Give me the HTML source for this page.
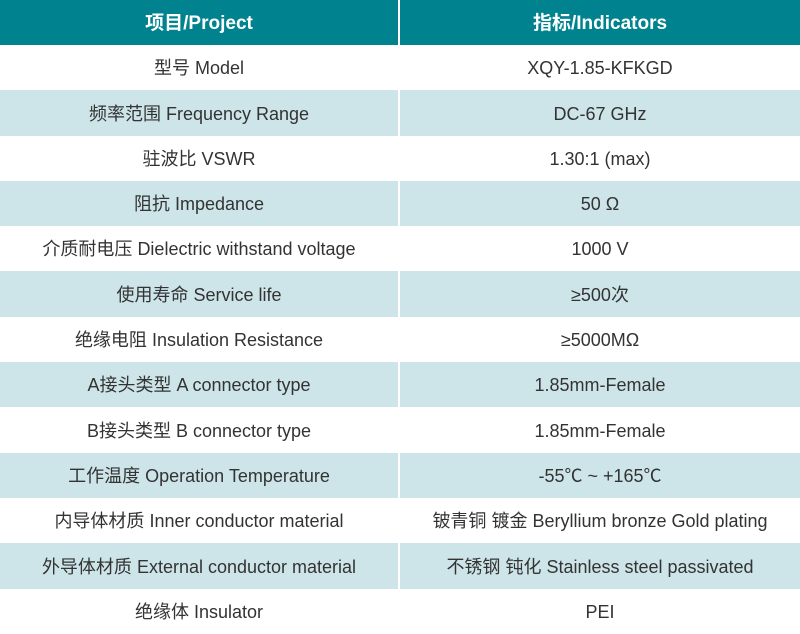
<!DOCTYPE html>
<html><head><meta charset="utf-8"><style>
body{margin:0;width:800px;height:634px;background:#fff;overflow:hidden;font-family:"Liberation Sans","Noto Sans CJK SC",sans-serif}
table{border-collapse:collapse;width:800px;table-layout:fixed}
td,th{height:45.3px;padding:0;text-align:center;vertical-align:middle;line-height:22px;font-size:18px;color:#333;font-weight:normal}
th{background:#00838f;color:#fff;font-weight:bold;font-size:19px;height:45px;padding-top:4px;box-sizing:border-box}
td:first-child,th:first-child{border-right:2px solid #fff;width:399px}
tr:nth-child(odd) td{background:#cde5e9}
td span,th span{display:inline-block;height:22px;line-height:22px;vertical-align:middle}
</style></head><body><table>
<tr><th><span>项目/Project</span></th><th><span>指标/Indicators</span></th></tr>
<tr><td><span>型号 Model</span></td><td><span>XQY-1.85-KFKGD</span></td></tr>
<tr><td><span>频率范围 Frequency Range</span></td><td><span>DC-67 GHz</span></td></tr>
<tr><td><span>驻波比 VSWR</span></td><td><span>1.30:1 (max)</span></td></tr>
<tr><td><span>阻抗 Impedance</span></td><td><span>50 Ω</span></td></tr>
<tr><td><span>介质耐电压 Dielectric withstand voltage</span></td><td><span>1000 V</span></td></tr>
<tr><td><span>使用寿命 Service life</span></td><td><span>≥500次</span></td></tr>
<tr><td><span>绝缘电阻 Insulation Resistance</span></td><td><span>≥5000MΩ</span></td></tr>
<tr><td><span>A接头类型 A connector type</span></td><td><span>1.85mm-Female</span></td></tr>
<tr><td><span>B接头类型 B connector type</span></td><td><span>1.85mm-Female</span></td></tr>
<tr><td><span>工作温度 Operation Temperature</span></td><td><span>-55℃ ~ +165℃</span></td></tr>
<tr><td><span>内导体材质 Inner conductor material</span></td><td><span>铍青铜 镀金 Beryllium bronze Gold plating</span></td></tr>
<tr><td><span>外导体材质 External conductor material</span></td><td><span>不锈钢 钝化 Stainless steel passivated</span></td></tr>
<tr><td><span>绝缘体 Insulator</span></td><td><span>PEI</span></td></tr>
</table></body></html>
